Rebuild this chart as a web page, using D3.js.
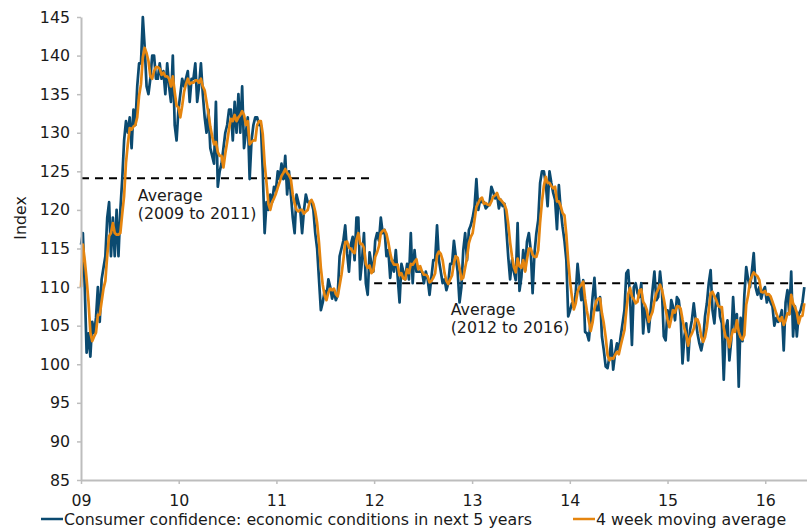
<!DOCTYPE html>
<html>
<head>
<meta charset="utf-8">
<script src="https://cdn.jsdelivr.net/npm/d3@7/dist/d3.min.js"></script>
<style>
  html, body { margin: 0; padding: 0; background: #ffffff; }
  svg { display: block; }
  text { font-family: Verdana, "DejaVu Sans", sans-serif; }
</style>
</head>
<body>
<svg id="chart" width="807" height="530"></svg>
<script>
// ---- Data (weekly readings, first week starting 2009-01-01) ----
const startDate = "2009-01-01";
const endDate = "2016-06-05";
const stepDays = 7;

const confidence2009 = [115.5,117,110,101.5,104,101,105.5,104,106,110,105.5,111,112.5,114,119,121,114,119,114,120,114,120,124,129,131.5,130,132,128,133,131,136,139,139,145,141,136,135,137,140,140,137,137,139,137,138,135,139,136,134,140,131,129];
const confidence2010 = [133,135,137,136,137,138,134,137,137,139,134,136,139,135,132,130,133,128,127,126,134,123,125,126,128,130,131,133,133,129,134,130,135,130,136,128,130,132,124,129,131,132,132,131,131,125,117,121,120,122,121,123];
const confidence2011 = [122.5,125,124,126,124,127,122,125,122,119,117,122,121,120,117,120,122,121,121,121,120,117,115,111,107,108,109.5,108.7,111,110,108.5,109.5,108.3,109,114,115,116,118,114.4,112,115.5,116.5,113.5,119,119,111,113.5,117,110.5,109,114.5,113];
const confidence2012 = [112,116,117,116,119,117,117.4,114,114.8,111.2,113.5,112,114.8,111.3,108,113,112,111,113,111,117,110.5,114.8,112,112,112,112,110.5,112,111,109,111.3,113.5,113.5,118,113.5,112,110.5,111,109.6,110.5,113,113,116,114,112,108,110,114.8,117,113.5,117.4];
const confidence2013 = [118,119,120.4,124,120,121.3,121,121,120.2,120.5,120.8,123,122.3,121.5,122,120.2,121.3,120.5,120.8,117.4,113.9,111,113.5,112,110.9,118.3,109.5,111.3,114.8,112.2,115.9,117,114.8,109.2,114.4,117,118.7,123.5,125,125,123.5,120.5,125,123.5,122.2,121.3,117.5,123.2,120,117.8,116,113.5];
const confidence2014 = [106.2,107,107.9,107.4,109.2,113,110.5,108.3,110.9,104.2,104,103.1,105.7,108.7,111.2,107,107,108.7,103.6,101.8,99.7,99.5,101,103.1,99.3,101.4,102.7,101.8,103.6,105.3,107,111.8,112.2,108.7,102.5,110,110.5,109.2,108.7,110.5,104,107.4,106.2,104.2,107,109.6,112,108.3,108.7,112,109.6,103.6];
const confidence2015 = [103.1,107,105.3,108.3,107.4,105.7,108.7,108.3,106.2,100.1,103.6,105.3,100.5,104.4,105.7,107.9,105.7,104,102.7,101.8,103.1,106.2,107.9,110.5,112.2,107,105.3,108.7,109.2,106.2,105.3,98,104.5,105.7,100.5,103.1,108.7,104.4,106.5,97.1,106,103,109,112.6,111,110,112,114.4,110,109,110,108.5];
const confidence2016 = [109.5,110,108,109,108,107.5,105,106,105.5,106,107,101.8,108,109.6,106.5,112,103.6,107.5,103.6,106.5,107,108,110];

const movingAvg2009 = [110,115.5,113.5,111,108.1,104.1,103,103.6,104.1,106.4,106.4,108.1,109.8,110.8,114.1,116.6,117,118.3,117,116.8,116.8,117,119.5,121.8,126.1,128.6,130.6,130.4,130.8,131,132,134.8,136.3,139.8,141,140.3,139.3,137.3,137,138,138.5,138.5,138.3,137.5,137.8,137.3,137.3,137,136,137.3,135.3,133.5];
const movingAvg2010 = [133.3,132,133.5,135.3,136.3,137,136.3,136.5,136.5,136.8,136.8,136.5,137,136,135.5,134,132.5,130.8,129.5,128.5,128.8,127.5,127,127,125.5,127.3,128.8,130.5,131.8,131.5,132.3,131.5,132,132.3,132.8,132.3,131,131.5,128.5,128.8,129,129,131,131.5,131.5,129.8,126,123.5,120.8,120,121,121.5];
const movingAvg2011 = [122.1,122.9,123.6,124.4,124.8,125.3,124.8,124.5,124,122,120.8,120,119.8,120,120,119.5,119.8,120,121,121.3,120.8,119.8,118.3,115.8,112.5,110.3,108.9,108.3,109.3,109.8,109.6,109.8,109.1,108.8,110.2,111.6,113.5,115.8,115.9,115.1,115,114.6,114.4,116.1,117,115.6,115.6,115.1,113,112.5,112.8,111.8];
const movingAvg2012 = [112.1,113.9,114.5,115.3,117,117.3,117.4,116.9,115.8,114.4,113.4,112.9,112.9,112.9,111.5,111.8,111.1,111,112.3,111.8,113,112.9,113.3,113.6,112.3,112.7,112,111.6,111.6,111.4,110.6,110.8,111.2,111.8,114.1,114.6,114.3,113.5,111.8,110.8,110.4,111,111.5,113.1,114,113.8,112.5,111,111.2,112.5,113.8,115.7];
const movingAvg2013 = [116.5,117,118.7,120.4,120.9,121.4,121.6,120.8,120.9,120.7,120.6,121.1,121.7,121.9,122.2,121.5,121.3,121,120.7,120,118.2,115.8,114,112.6,111.9,113.7,112.7,112.5,113.5,112,113.6,115,115,114.2,113.9,113.9,114.8,118.4,121.1,123.1,124.3,123.5,123.5,123.1,122.8,123,121.1,121.1,120.5,119.6,119.3,116.8];
const movingAvg2014 = [113.4,110.7,108.7,107.1,107.9,109.4,110,110.3,110.7,108.5,106.9,105.6,104.3,105.4,107.2,108.2,108.5,108.5,106.6,105.3,103.5,101.2,100.5,100.8,100.7,101.2,101.6,101.3,102.4,103.4,104.4,106.9,109.1,109.9,108.8,108.4,107.9,108.1,109.6,109.7,108.1,107.7,107,105.5,106.2,106.8,108.2,109.2,109.7,110.3,109.7,108.5];
const movingAvg2015 = [107.1,105.8,104.8,105.9,107,106.7,107.5,107.5,107.2,105.8,104.6,103.8,102.4,103.5,104,104.6,105.9,105.8,105.1,103.6,102.9,103.5,104.8,106.9,109.2,109.4,108.8,108.3,107.6,107.4,107.4,104.7,103.5,103.4,102.2,103.5,104.5,104.2,105.7,104.2,103.5,103.2,103.8,107.7,108.9,110.7,111.4,111.9,111.6,111.4,110.9,109.4];
const movingAvg2016 = [109.3,109.5,109,109.1,108.8,108.1,107.4,106.6,106,105.6,106.1,105.1,105.7,106.6,106.5,109,107.9,107.4,106.7,105.3,106.2,106.3,107.9];

// averages shown as dashed reference lines
const averageLabels = [["Average", "(2009 to 2011)"], ["Average", "(2012 to 2016)"]];
const averageValues = [124.1, 110.5];
const averagePeriods = [["2009-01-01", "2012-01-01"], ["2012-01-01", "2016-06-05"]];
const averageLabelDates = ["2009-08-01", "2012-10-13"];

const yTicks = [85, 90, 95, 100, 105, 110, 115, 120, 125, 130, 135, 140, 145];
const seriesNames = ["Consumer confidence: economic conditions in next 5 years", "4 week moving average"];
const yTitle = "Index";

// ---- Build ----
const parse = d3.utcParse("%Y-%m-%d");
const start = parse(startDate);
const confidence = [].concat(confidence2009, confidence2010, confidence2011, confidence2012, confidence2013, confidence2014, confidence2015, confidence2016);
const movingAvg = [].concat(movingAvg2009, movingAvg2010, movingAvg2011, movingAvg2012, movingAvg2013, movingAvg2014, movingAvg2015, movingAvg2016);
const dateAt = i => d3.utcDay.offset(start, i * stepDays);

const blue = "#0b4a70";
const orange = "#e5850f";
const axisGrey = "#bdbdbd";
const textColor = "#1a1a1a";
const fontSize = "15.8px";

const svg = d3.select("#chart");
svg.append("rect").attr("width", 807).attr("height", 530).attr("fill", "#fff");

const x = d3.scaleUtc().domain([start, parse(endDate)]).range([81, 807]);
const y = d3.scaleLinear().domain([85, 145]).range([480, 17]);

// dashed average lines
averageValues.forEach((v, i) => {
  svg.append("line")
    .attr("x1", x(parse(averagePeriods[i][0])))
    .attr("x2", x(parse(averagePeriods[i][1])))
    .attr("y1", y(v)).attr("y2", y(v))
    .attr("stroke", "#000").attr("stroke-width", 2)
    .attr("stroke-dasharray", "8,6");
});

const line = d3.line().x((d, i) => x(dateAt(i))).y(d => y(d));

svg.append("path").datum(confidence)
  .attr("d", line).attr("fill", "none")
  .attr("stroke", blue).attr("stroke-width", 2.7).attr("stroke-linejoin", "round");
svg.append("path").datum(movingAvg)
  .attr("d", line).attr("fill", "none")
  .attr("stroke", orange).attr("stroke-width", 2.7).attr("stroke-linejoin", "round");

// axes
const yAxis = d3.axisLeft(y).tickValues(yTicks).tickSize(4).tickSizeOuter(0).tickPadding(7);
const gy = svg.append("g").attr("transform", "translate(81,0)").call(yAxis);
const xAxis = d3.axisBottom(x).ticks(d3.utcYear.every(1)).tickFormat(d3.utcFormat("%y")).tickSize(4).tickSizeOuter(0).tickPadding(11);
const gx = svg.append("g").attr("transform", "translate(0,480)").call(xAxis);

[gx, gy].forEach(g => {
  g.select(".domain").attr("stroke", axisGrey).attr("stroke-width", 2);
  g.selectAll(".tick line").attr("stroke", axisGrey).attr("stroke-width", 1.5);
  g.selectAll(".tick text").attr("fill", textColor).style("font-size", fontSize)
    .style("font-family", "Verdana, 'DejaVu Sans', sans-serif");
});

// y title
svg.append("text")
  .attr("transform", "translate(26,218) rotate(-90)")
  .attr("text-anchor", "middle")
  .style("font-size", fontSize).attr("fill", textColor)
  .text(yTitle);

// annotations
const annoOffsets = [23, 32];
averageLabels.forEach((lbl, i) => {
  const ax = x(parse(averageLabelDates[i]));
  const t = svg.append("text")
    .attr("x", ax)
    .attr("y", y(averageValues[i]) + annoOffsets[i])
    .style("font-size", fontSize).attr("fill", textColor);
  t.append("tspan").text(lbl[0]);
  t.append("tspan").attr("x", ax).attr("dy", 18).text(lbl[1]);
});

// legend
const legend = svg.append("g");
const legendItems = [{x0: 41, color: blue, name: seriesNames[0]}, {x0: 573, color: orange, name: seriesNames[1]}];
legendItems.forEach(it => {
  legend.append("line").attr("x1", it.x0).attr("x2", it.x0 + 22)
    .attr("y1", 519).attr("y2", 519).attr("stroke", it.color).attr("stroke-width", 2.5);
  legend.append("text").attr("x", it.x0 + 23).attr("y", 524.5)
    .style("font-size", fontSize).attr("fill", textColor).text(it.name);
});
</script>
</body>
</html>
